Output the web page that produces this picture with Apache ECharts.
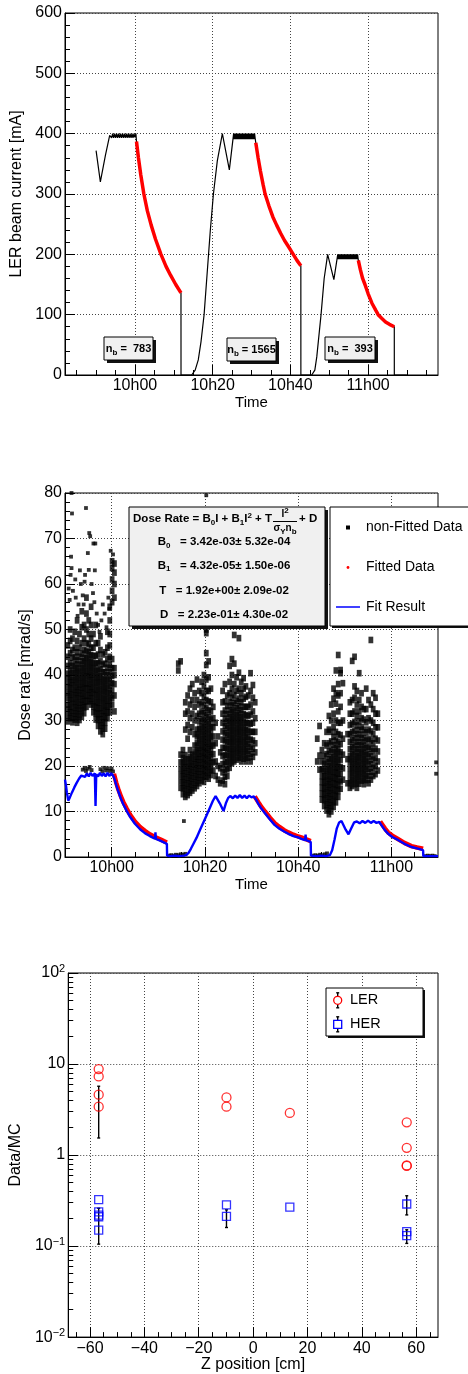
<!DOCTYPE html>
<html><head><meta charset="utf-8">
<script src="https://cdn.jsdelivr.net/npm/echarts@6/dist/echarts.min.js"></script>
<style>html,body{margin:0;padding:0;background:#fff}#c{width:468px;height:1374px}</style>
</head><body><div id="c"></div>
<script>
// ---------- shared tick labels ----------
const timeTickValues = [0, 20, 40, 60];
const timeTickLabels = ['10h00', '10h20', '10h40', '11h00'];
const timeMinorTicks1 = [-15, -10, -5, 5, 10, 15, 25, 30, 35, 45, 50, 55, 65, 70, 75];
const timeMinorTicks2 = [-5, 5, 10, 15, 25, 30, 35, 45, 50, 55, 65];
const zTickValues = [-60, -40, -20, 0, 20, 40, 60];
const zMinorTicks = [-65, -55, -50, -45, -35, -30, -25, -15, -10, -5, 5, 10, 15, 25, 30, 35, 45, 50, 55, 65];

// ---------- panel 1 : LER beam current [mA] vs time (minutes after 10h00) ----------
const beamCurrent = [
  [-10,372],[-8.9,320],[-7.6,364],[-6.5,397],
  [-6.25,400],[-6.0,393],[-5.75,400],[-5.5,393],[-5.25,400],[-5.0,393],[-4.75,400],[-4.5,393],
  [-4.25,400],[-4.0,393],[-3.75,400],[-3.5,393],[-3.25,400],[-3.0,393],[-2.75,400],[-2.5,393],
  [-2.25,400],[-2.0,393],[-1.75,400],[-1.5,393],[-1.25,400],[-1.0,393],[-0.75,400],[-0.5,393],
  [-0.25,400],[0.0,394],[0.25,400],
  [0.4,387],[0.9,360],[1.5,332],[2.3,300],[3.2,272],[4.2,248],[5.3,225],[6.7,200],[8,180],
  [9.2,165],[10.5,150],[11.85,136],[11.86,0],[14.6,0],[15.5,8],[16.3,25],[17,55],[17.8,100],
  [18.6,170],[19.4,240],[20.2,300],[21.2,355],[22.5,400],[24.3,340],[25.4,400],
  [25.55,391],[25.7,400],[25.85,391],[26.0,400],[26.15,391],[26.3,400],[26.45,391],[26.6,400],
  [26.75,391],[26.9,400],[27.05,391],[27.2,400],[27.35,391],[27.5,400],[27.65,391],[27.8,400],
  [27.95,391],[28.1,400],[28.25,391],[28.4,400],[28.55,391],[28.7,400],[28.85,391],[29.0,400],
  [29.15,391],[29.3,400],[29.45,391],[29.6,400],[29.75,391],[29.9,400],[30.05,391],[30.2,400],
  [30.35,391],[30.5,400],[30.65,391],[30.8,400],[30.95,392],
  [31.1,385],[31.7,360],[32.3,338],[33,315],[33.5,300],[34.5,280],[35.5,262],[36.5,248],
  [37.5,235],[38.5,223],[39.5,213],[40.75,200],[41.7,190],[42.7,181],[42.71,0],
  [45.5,0],[46.3,8],[46.8,30],[47.9,100],[48.7,160],[49.6,200],[51.2,158],[52.2,200],
  [52.35,192],[52.5,200],[52.65,192],[52.8,200],[52.95,192],[53.1,200],[53.25,192],[53.4,200],
  [53.55,192],[53.7,200],[53.85,192],[54.0,200],[54.15,192],[54.3,200],[54.45,192],[54.6,200],
  [54.75,192],[54.9,200],[55.05,192],[55.2,200],[55.35,192],[55.5,200],[55.65,192],[55.8,200],
  [55.95,192],[56.1,200],[56.25,192],[56.4,200],[56.55,192],[56.7,200],[56.85,192],[57.0,200],
  [57.15,192],[57.3,200],
  [57.5,190],[58,175],[58.6,160],[59.2,150],[60,135],[61,119],[62,107],[62.6,100],[63.5,94],
  [64.5,88],[65.5,84],[66.75,80],[66.76,0],[70,0]
];
const fittedCurrent1 = [[0.4,387],[0.9,360],[1.5,332],[2.3,300],[3.2,272],[4.2,248],[5.3,225],[6.7,200],[8,180],[9.2,165],[10.5,150],[11.85,136]];
const fittedCurrent2 = [[31.1,385],[31.7,360],[32.3,338],[33,315],[33.5,300],[34.5,280],[35.5,262],[36.5,248],[37.5,235],[38.5,223],[39.5,213],[40.75,200],[41.7,190],[42.7,181]];
const fittedCurrent3 = [[57.5,190],[58,175],[58.6,160],[59.2,150],[60,135],[61,119],[62,107],[62.6,100],[63.5,94],[64.5,88],[65.5,84],[66.75,80]];
const bunchCounts = ['783', '1565', '393'];

// ---------- panel 2 : dose rate [mrad/s] vs time ----------
// columns: [time, [dose values...]]
const nonFittedRun1 = [
  [-9.4,[29.8,31,32.4,33.5,35,36.2,37.6,39,40.3,42,44,46.5]],
  [-8.9,[30.5,31.8,33,34.4,35.7,37,38.3,39.6,41,42.6,44.8,47.5,50]],
  [-8.4,[29.6,30.9,32.2,33.6,34.9,36.3,37.7,39,40.5,42,43.8,45.5,48]],
  [-7.9,[30.2,31.5,32.8,34.1,35.5,36.8,38.2,39.6,41,42.4,44,46,49.5]],
  [-7.4,[29.5,30.8,32.1,33.4,34.8,36.1,37.4,38.8,40.2,41.6,43.2,45,47.5,52]],
  [-6.9,[30.1,31.4,32.7,34,35.4,36.7,38,39.4,40.8,42.3,44,46,49]],
  [-6.4,[30.8,32.1,33.4,34.7,36,37.3,38.7,40.1,41.5,43,44.7,47,50.5,54]],
  [-5.9,[31.6,32.9,34.2,35.5,36.9,38.2,39.6,41,42.4,43.8,45.5,48,51]],
  [-5.4,[33,34.3,35.6,37,38.3,39.7,41,42.4,43.8,45.3,47,50,53.5,57]],
  [-4.9,[34.2,35.5,36.8,38.1,39.5,40.8,42.2,43.6,45,46.8,49,52]],
  [-4.4,[33.5,34.8,36.1,37.4,38.8,40.1,41.5,42.9,44.4,46,48,51,55]],
  [-3.9,[31.8,33.1,34.4,35.8,37.1,38.5,39.9,41.3,42.7,44.2,46,49]],
  [-3.4,[30.2,31.5,32.8,34.1,35.5,36.8,38.2,39.6,41,42.5,44.2,47,51]],
  [-2.9,[28.8,30.1,31.4,32.7,34,35.4,36.8,38.2,39.6,41,42.6,44.5,47]],
  [-2.4,[27.6,28.9,30.2,31.5,32.8,34.2,35.6,37,38.4,39.8,41.3,43,45.5,48.5]],
  [-1.9,[27,28.3,29.6,30.9,32.2,33.6,35,36.4,37.8,39.2,40.7,42.3,44.5]],
  [-1.4,[28.2,29.5,30.8,32.1,33.4,34.8,36.2,37.6,39,40.6,42.5,45]],
  [-0.9,[30.5,31.8,33.1,34.4,35.8,37.2,38.6,40,41.6,43.5,46,49.5]],
  [-0.4,[31.8,33.2,34.6,36,37.5,39,40.6,42.2,44,46.5,49,52,55]],
  [0.1,[33.5,35,36.6,38.2,39.8,41.5,43.5,56,58.5,61,63.5,65]],
  [0.6,[32,35.5,38,40,41.5,57,60,62.5,64.5]]
];
const nonFittedRun2 = [
  [14.3,[41,42.5]],
  [14.8,[15.2,16.6,18,19.4,20.8,22.5,43]],
  [15.3,[13.8,15.1,16.4,17.7,19,20.4,21.8,23.5]],
  [15.8,[13.2,14.5,15.8,17.1,18.4,19.7,21,22.4,28,31.5,34]],
  [16.3,[13.6,14.9,16.2,17.5,18.8,20.1,21.5,26,29,32,35.5]],
  [16.8,[14.1,15.4,16.7,18,19.3,20.6,22,23.5,27.5,30.5,33.5,37]],
  [17.3,[14.6,15.9,17.2,18.5,19.8,21.1,22.5,28.5,31.5,34.5,38]],
  [17.8,[15.1,16.4,17.7,19,20.3,21.6,23,24.5,27,30,33,36]],
  [18.3,[15.6,16.9,18.2,19.5,20.8,22.1,23.5,25,26.5,28,31,34.5,39]],
  [18.8,[16.2,17.5,18.8,20.1,21.4,22.7,24,25.4,26.8,28.2,29.8,31.5,33.5,36.5]],
  [19.3,[16.8,18.1,19.4,20.7,22,23.3,24.6,26,27.4,28.8,30.3,32,34,36,38.5]],
  [19.8,[16.5,17.8,19.1,20.4,21.7,23,24.3,25.7,27.1,28.5,30,31.6,33.3,35.2,37.5,40]],
  [20.3,[17.6,18.9,20.2,21.5,22.8,24.1,25.4,26.8,28.2,29.6,31.1,32.7,34.5,36.5,39,42.2,44.8,49.2,50]],
  [20.8,[17.2,18.5,19.8,21.1,22.4,23.7,25,26.4,27.8,29.2,30.7,32.3,34.2,36.5,39.5,43]],
  [21.3,[18,19.3,20.6,21.9,23.2,24.5,25.9,27.3,28.7,30.2,32,34,37]],
  [21.8,[19,20.8,22.6,24.5,26.5,28.5,30.5,33]],
  [22.3,[17.8,21,25,29.5]],
  [22.8,[17,20,26.5]],
  [23.3,[16.2,19.5,23]],
  [23.8,[16.8,18.6,20.4,22.2,24,25.8,27.6,29.5,31.5,34,36.5]],
  [24.3,[16,17.6,19.2,20.8,22.4,24,25.6,27.2,28.8,30.4,32.2,34.2,38]],
  [24.8,[17.8,19.3,20.8,22.3,23.8,25.3,26.8,28.3,29.8,31.4,33.2,35.5]],
  [25.3,[19.6,21,22.4,23.8,25.2,26.6,28,29.4,30.8,32.3,34,36,38.5,42]],
  [25.8,[20.6,22,23.4,24.8,26.2,27.6,29,30.4,31.8,33.3,35,37,40,43.5]],
  [26.3,[21,22.4,23.8,25.2,26.6,28,29.4,30.8,32.2,33.8,35.6,38,42.5,48.8]],
  [26.8,[21.4,22.8,24.2,25.6,27,28.4,29.8,31.2,32.7,34.3,36.5,39.5]],
  [27.3,[21.8,23.2,24.6,26,27.4,28.8,30.2,31.6,33.1,34.8,37,40.5,48.1]],
  [27.8,[21,22.4,23.8,25.2,26.6,28,29.4,30.8,32.3,34,36,38.5]],
  [28.3,[21.6,23,24.4,25.8,27.2,28.6,30,31.4,33,34.8,37,39.3]],
  [28.8,[21,22.4,23.8,25.2,26.6,28,29.5,31.2,33,35.2,37.5]],
  [29.3,[21.8,23.3,24.8,26.3,27.8,29.4,31,33,35.5]],
  [29.8,[21,22.6,24.2,25.8,27.5,29.3,31.3,33.5,36.5,40.4]],
  [30.3,[22,23.8,25.6,27.5,29.5,32,35,37.8]],
  [30.8,[23,25,27.5,30.5,34]]
];
const nonFittedRun3 = [
  [44.1,[21,26]],
  [44.6,[19.2,22.3,28.8]],
  [45.1,[12.6,13.9,15.2,16.5,17.8,19.3,21,23.5]],
  [45.6,[11.2,12.5,13.8,15.1,16.4,17.7,19,20.5,22.2,25]],
  [46.1,[10.2,11.5,12.8,14.1,15.4,16.7,18,19.4,20.9,22.6,24.5,27.5]],
  [46.6,[9.4,10.7,12,13.3,14.6,15.9,17.2,18.6,20,21.5,23.2,25,28,31]],
  [47.1,[10,11.3,12.6,13.9,15.2,16.5,17.8,19.2,20.6,22,23.6,25.4,27.5,30,33.5]],
  [47.6,[11,12.3,13.6,14.9,16.2,17.5,18.8,20.2,21.6,23,24.6,26.4,28.5,31.5,34.8,37]],
  [48.1,[12,13.3,14.6,15.9,17.2,18.5,19.8,21.2,22.6,24,25.6,27.5,30,33.7,36,41]],
  [48.6,[13.2,14.5,15.8,17.1,18.4,19.7,21,22.4,23.8,25.3,27,29.5,32,35.5,38,44.4]],
  [49.1,[15,16.6,18.2,19.8,21.4,23,24.8,26.8,29.5,33,36,40.4,41.1]],
  [49.6,[17,19.5,22.5,26,30,38.2]],
  [50.6,[16.2,21.5,27]],
  [51.1,[15.2,16.6,18,19.4,20.8,22.2,23.7,25.3,27,29,31.5,34]],
  [51.6,[15.6,17,18.4,19.8,21.2,22.6,24.1,25.7,27.4,29.3,31.5,34.5,43.1]],
  [52.1,[16,17.4,18.8,20.2,21.6,23,24.5,26.1,27.8,29.7,32,35,37.5,44]],
  [52.6,[15.2,16.6,18,19.4,20.8,22.2,23.7,25.3,27,28.9,31,33.5,36.5]],
  [53.1,[16.1,17.5,18.9,20.3,21.7,23.1,24.6,26.2,27.9,29.8,32,34.5,40.4]],
  [53.6,[16.8,18.2,19.6,21,22.4,23.8,25.3,26.9,28.6,30.5,33,36]],
  [54.1,[16,17.4,18.8,20.2,21.6,23,24.5,26.1,28,30.2,32.5]],
  [54.6,[16.9,18.3,19.7,21.1,22.5,24,25.6,27.4,29.6,32.5,37]],
  [55.1,[16.2,17.8,19.4,21,22.6,24.2,26,28,30.5,34.5]],
  [55.6,[17,18.7,20.4,22.1,23.8,25.6,27.6,30,33.5,47.7]],
  [56.1,[17.8,19.6,21.4,23.2,25,27,29.5,32.5,36]],
  [56.6,[18.2,20,21.8,23.8,26,28.5,31.5,35]],
  [57.1,[19,21,23.2,25.6,28.5,31.5]]
];
const nonFittedSparse = [
  [-8.6,80],[-8.5,75.5],[-8.7,66],[-8.6,63.5],[-8.8,62],[-8.3,58.5],[-9.0,56.5],[-7.7,57],[-7.1,55.5],
  [-7.3,53],[-6.6,60],[-6.2,57.5],[-6.0,55.5],[-5.5,76.7],[-4.8,71.2],[-4.6,70.5],[-3.9,68.9],[-3.5,68.9],
  [-5.1,66.8],[-4.9,63.1],[-5.7,62],[-3.6,63],[-4.3,60],[-4.0,58],[-3.7,56],[-3.2,53.5],[-2.9,51],
  [-2.6,49.5],[-2.2,52],[-1.9,55.5],[-1.5,53.5],[-1.1,50.5],[-0.7,57],[-0.5,54.5],[-0.2,67.3],[0.3,66.5],
  [-5.8,60.5],[-6.8,63],[-7.8,61],[-9.2,59],
  [-6.2,19.2],[-5.8,19.6],[-5.5,18.9],[-5.1,19.4],[-4.7,19.8],[-4.3,19.1],[-2.4,19.3],[-2.0,18.8],
  [-1.6,19.6],[-1.2,19.0],[-0.8,19.5],[-0.4,18.9],[0.0,19.4],[0.3,18.8],
  [20.3,79.5],[15.5,7.9],
  [12.3,0.3],[12.8,0.4],[13.3,0.3],[13.8,0.5],[14.3,0.4],[14.8,0.6],[15.3,0.5],[15.8,0.7],
  [43.2,0.3],[43.7,0.4],[44.2,0.3],[44.7,0.5],[45.2,0.4],[45.7,0.6],[46.2,0.8],
  [67.3,0.2],[67.8,0.3],[68.3,0.2],[68.8,0.3],[69.3,0.2],[69.6,20.8],[69.6,18.3]
];
const fittedDose1 = [[0.5,18.3],[1.0,16.3],[1.4,15.0],[2.0,13.3],[2.5,12.1],[3.2,10.7],[3.9,9.4],[5.0,7.8],[6.1,6.6],[7.2,5.7],[8.2,5.0],[9.3,4.4],[10.4,3.9],[11.2,3.5],[11.85,3.2]];
const fittedDose2 = [[30.7,13.3],[31.0,12.9],[31.5,12.0],[32.0,11.2],[32.9,10.0],[34.0,8.6],[35.0,7.4],[36.0,6.6],[37.0,5.9],[37.9,5.4],[39.0,4.9],[40.0,4.5],[40.7,4.3],[41.5,4.0],[42.7,3.5]];
const fittedDose3 = [[57.6,7.8],[58.0,7.2],[58.6,6.3],[59.3,5.4],[60.2,4.7],[61.5,3.9],[62.8,3.1],[64.3,2.4],[65.5,2.1],[66.8,1.8]];
const fitResult = [
  [-10,17.0],[-9.8,15.8],[-9.6,14.2],[-9.3,12.4],[-9.0,13.0],[-8.5,14.2],[-8.0,15.3],[-7.5,16.3],[-7.0,17.2],
  [-6.5,17.9],[-6.1,18.3],[-5.7,17.6],[-5.3,18.4],[-4.9,17.7],[-4.5,18.5],[-4.1,17.8],[-3.6,18.4],[-3.45,11.2],
  [-3.3,18.2],[-2.9,17.7],[-2.5,18.5],[-2.1,17.8],[-1.7,18.4],[-1.3,17.7],[-0.9,18.5],[-0.5,17.8],[-0.1,18.4],[0.3,17.9],
  [0.6,17.2],[1.0,15.8],[1.4,14.5],[2.0,12.8],[2.5,11.6],[3.2,10.2],[3.9,8.9],[5.0,7.3],[6.1,6.1],[7.2,5.2],
  [8.2,4.6],[9.3,4.0],[9.4,5.4],[9.5,4.0],[10.4,3.6],[11.2,3.2],[11.85,2.9],
  [11.9,0.3],[12.5,0.2],[13.5,0.3],[14.5,0.2],[15.5,0.3],[16.0,0.4],[16.5,0.9],[17.0,1.8],[17.5,2.8],[18.2,4.2],
  [18.9,5.8],[19.6,7.4],[20.3,9.0],[21.1,10.9],[21.7,12.3],[22.3,13.4],[23.2,11.8],[24.0,10.1],[24.5,11.8],
  [25.0,13.0],[25.5,13.4],[26.0,12.9],[26.5,13.5],[27.0,13.0],[27.5,13.6],[28.0,13.0],[28.5,13.5],[29.0,12.9],
  [29.5,13.5],[30.0,13.1],[30.5,13.3],
  [31.0,12.6],[31.5,11.6],[32.0,10.8],[32.9,9.6],[34.0,8.2],[35.0,7.0],[36.0,6.2],[37.0,5.6],[37.9,5.1],
  [39.0,4.6],[40.0,4.3],[40.7,4.0],[41.5,3.7],[41.6,4.9],[41.7,3.7],[42.7,3.3],
  [42.75,0.3],[44,0.2],[45,0.3],[46,0.2],[46.8,0.4],[47.3,1.5],[47.8,3.8],[48.3,6.3],[48.8,7.6],[49.3,7.9],
  [50.2,6.0],[50.8,5.0],[51.4,6.3],[52.0,7.6],[52.6,7.8],[53.2,7.4],[53.8,7.9],[54.4,7.5],[55.0,8.0],[55.6,7.5],
  [56.2,7.9],[56.8,7.5],[57.4,7.7],
  [58.0,6.8],[58.6,5.9],[59.3,5.1],[60.2,4.4],[61.5,3.7],[62.8,2.9],[64.3,2.2],[65.5,1.9],[66.8,1.5],
  [66.85,0.2],[68,0.2],[70,0.2]
];
const statNames = ['B0', 'B1', 'T', 'D'];
const statValues = ['3.42e-03', '4.32e-05', '1.92e+00', '2.23e-01'];
const statErrors = ['5.32e-04', '1.50e-06', '2.09e-02', '4.30e-02'];

// ---------- panel 3 : Data/MC vs Z position [cm] ----------
const lerPoints = [[-56.8,8.8],[-56.8,7.3],[-56.8,4.6],[-56.8,3.4],[-9.8,4.3],[-9.8,3.4],[13.5,2.9],[56.5,2.29],[56.5,1.2],[56.5,0.77],[56.5,0.76]];
const herPoints = [[-56.8,0.323],[-56.8,0.238],[-56.8,0.219],[-56.8,0.21],[-56.8,0.15],[-9.8,0.284],[-9.8,0.212],[13.5,0.268],[56.5,0.29],[56.5,0.144],[56.5,0.13]];
const lerErrors = [[-56.8,1.54,5.7]];
const herErrors = [[-56.8,0.105,0.26],[-9.8,0.16,0.25],[56.5,0.22,0.357],[56.5,0.107,0.151]];

// ---------- build ----------
function flattenColumns(cols) {
  const out = [];
  cols.forEach(c => c[1].forEach(v => out.push([c[0], v])));
  return out;
}
const denseDose = flattenColumns(nonFittedRun1).concat(flattenColumns(nonFittedRun2), flattenColumns(nonFittedRun3));

const FONT = '"Liberation Sans", Arial, Helvetica, sans-serif';
const dotted = { type: [1, 2], color: '#444', width: 1 };
const black = { color: '#000', width: 1 };
const logMinor = [];
for (let n = -2; n < 2; n++) for (let k = 2; k <= 9; k++) logMinor.push(Math.log10(k) + n);

function timeMain(grid, min, max) {
  return {
    gridIndex: grid, type: 'value', min: min, max: max, position: 'bottom',
    axisLine: { show: true, onZero: false, lineStyle: black },
    axisTick: { show: true, inside: true, length: 10, customValues: timeTickValues, lineStyle: black },
    axisLabel: { customValues: timeTickValues, margin: 3, fontSize: 16, color: '#000', fontFamily: FONT,
      formatter: v => timeTickLabels[timeTickValues.indexOf(Math.round(v))] || '' },
    splitLine: { show: true, lineStyle: dotted },
    name: 'Time', nameLocation: 'middle', nameGap: 19,
    nameTextStyle: { fontSize: 15, color: '#000', fontFamily: FONT }
  };
}
function minorAxis(grid, min, max, ticks, pos) {
  return {
    gridIndex: grid, type: 'value', min: min, max: max, position: pos,
    axisLine: { show: false, onZero: false }, axisLabel: { show: false }, splitLine: { show: false },
    axisTick: { show: true, inside: true, length: 5, customValues: ticks, lineStyle: black }
  };
}
function valueY(grid, min, max, interval, name, gap) {
  return {
    gridIndex: grid, type: 'value', min: min, max: max, interval: interval, position: 'left',
    axisLine: { show: true, onZero: false, lineStyle: black },
    axisTick: { show: true, inside: true, length: 10, lineStyle: black },
    minorTick: { show: true, splitNumber: 5, length: 5, lineStyle: black },
    axisLabel: { margin: 3, fontSize: 16, color: '#000', fontFamily: FONT },
    splitLine: { show: true, lineStyle: dotted },
    name: name, nameLocation: 'middle', nameGap: gap,
    nameTextStyle: { fontSize: 16, color: '#000', fontFamily: FONT }
  };
}

const lineS = (data, color, width, xi, yi, name) => ({
  type: 'line', name: name, data: data, xAxisIndex: xi, yAxisIndex: yi, showSymbol: false,
  symbol: 'none', lineStyle: { color: color, width: width }, itemStyle: { color: color }, z: 3
});

function errRender(params, api) {
  const x = api.value(0);
  const lo = api.coord([x, api.value(1)]);
  const hi = api.coord([x, api.value(2)]);
  const st = { stroke: '#000', lineWidth: 1.4 };
  return { type: 'group', children: [
    { type: 'line', shape: { x1: lo[0], y1: lo[1], x2: hi[0], y2: hi[1] }, style: st },
    { type: 'line', shape: { x1: lo[0] - 1.5, y1: lo[1], x2: lo[0] + 1.5, y2: lo[1] }, style: st },
    { type: 'line', shape: { x1: hi[0] - 1.5, y1: hi[1], x2: hi[0] + 1.5, y2: hi[1] }, style: st }
  ] };
}

// ---------- graphic (boxes, legends) ----------
const G = [];
function box(x, y, w, h, fill, sh) {
  G.push({ type: 'rect', shape: { x: x + sh, y: y + sh, width: w, height: h }, style: { fill: '#111' }, z: 100, silent: true });
  G.push({ type: 'rect', shape: { x: x, y: y, width: w, height: h }, style: { fill: fill, stroke: '#000', lineWidth: 1 }, z: 101, silent: true });
}
const subRich = {
  sb: { fontSize: 8, fontWeight: 'bold', fontFamily: FONT, fill: '#000', padding: [7, 0, 0, 0] },
  sp: { fontSize: 8, fontWeight: 'bold', fontFamily: FONT, fill: '#000', padding: [0, 0, 6, 0] }
};
function txt(x, y, text, opts) {
  G.push(Object.assign({ type: 'text', x: x, y: y, z: 102, silent: true,
    style: Object.assign({ text: text, fontSize: 11.5, fontWeight: 'bold', fontFamily: FONT, fill: '#000',
      align: 'center', verticalAlign: 'middle', rich: subRich }, opts || {}) }));
}
// n_b boxes (panel 1)
const nbBoxes = [[104, 337, 49, 23], [227, 338, 49, 23], [325, 337, 50, 23]];
nbBoxes.forEach((b, i) => {
  box(b[0], b[1], b[2], b[3], '#f0f0f0', 3);
  const pad = bunchCounts[i].length < 4 ? '  ' : ' ';
  txt(b[0] + b[2] / 2, b[1] + b[3] / 2 + 0.5, 'n{sb|b} =' + pad + bunchCounts[i], { fontSize: 11 });
});
// stats box (panel 2)
box(129, 507, 196, 119, '#f0f0f0', 3);
txt(272, 519, 'Dose Rate = B{sb|0}I + B{sb|1}I{sp|2} + T', { align: 'right' });
txt(285, 514, 'I{sp|2}', { fontSize: 10 });
G.push({ type: 'line', shape: { x1: 273, y1: 521.5, x2: 297, y2: 521.5 }, style: { stroke: '#000', lineWidth: 1 }, z: 102, silent: true });
txt(285, 528, 'σ{sb|Y}n{sb|b}', { fontSize: 10 });
txt(299, 519, '+ D', { align: 'left' });
const statY = [542, 565.5, 590.5, 615];
statNames.forEach((n, i) => {
  const nm = n.length === 2 ? n[0] + '{sb|' + n[1] + '}' : n;
  txt(224, statY[i], nm + '   = ' + statValues[i] + '± ' + statErrors[i]);
});
// legend (panel 2)
box(330, 507, 145, 119, '#ffffff', 2);
G.push({ type: 'rect', shape: { x: 346, y: 525.5, width: 4, height: 4 }, style: { fill: '#000' }, z: 102, silent: true });
G.push({ type: 'circle', shape: { cx: 348, cy: 567.5, r: 1.4 }, style: { fill: '#ff0000' }, z: 102, silent: true });
G.push({ type: 'line', shape: { x1: 336, y1: 607, x2: 360, y2: 607 }, style: { stroke: '#0000ff', lineWidth: 1.5 }, z: 102, silent: true });
const leg2 = [['non-Fitted Data', 527.5], ['Fitted Data', 567.5], ['Fit Result', 607]];
leg2.forEach(l => txt(366, l[1], l[0], { fontSize: 14, fontWeight: 'normal', align: 'left' }));
// legend (panel 3)
box(326, 988, 97, 48, '#ffffff', 2);
[[1000.3, 'LER'], [1024.3, 'HER']].forEach((e, i) => {
  G.push({ type: 'line', shape: { x1: 337.7, y1: e[0] - 7.5, x2: 337.7, y2: e[0] + 7.5 }, style: { stroke: '#000', lineWidth: 1.4 }, z: 102, silent: true });
  G.push({ type: 'line', shape: { x1: 336.2, y1: e[0] - 7.5, x2: 339.2, y2: e[0] - 7.5 }, style: { stroke: '#000', lineWidth: 1.4 }, z: 102, silent: true });
  G.push({ type: 'line', shape: { x1: 336.2, y1: e[0] + 7.5, x2: 339.2, y2: e[0] + 7.5 }, style: { stroke: '#000', lineWidth: 1.4 }, z: 102, silent: true });
  if (i === 0) G.push({ type: 'circle', shape: { cx: 337.7, cy: e[0], r: 4 }, style: { fill: '#fff', stroke: '#ff0000', lineWidth: 1.3 }, z: 103, silent: true });
  else G.push({ type: 'rect', shape: { x: 333.7, y: e[0] - 4, width: 8, height: 8 }, style: { fill: '#fff', stroke: '#0000ff', lineWidth: 1.3 }, z: 103, silent: true });
  txt(350, e[0], e[1], { fontSize: 14.5, fontWeight: 'normal', align: 'left' });
});

const option = {
  animation: false,
  backgroundColor: '#fff',
  textStyle: { fontFamily: FONT },
  grid: [
    { left: 65, top: 13, width: 373, height: 362, show: true, borderColor: '#000', borderWidth: 1, backgroundColor: 'transparent' },
    { left: 65, top: 493, width: 373, height: 364, show: true, borderColor: '#000', borderWidth: 1, backgroundColor: 'transparent' },
    { left: 65, top: 973, width: 373, height: 365, show: true, borderColor: '#000', borderWidth: 1, backgroundColor: 'transparent' }
  ],
  xAxis: [
    timeMain(0, -18, 78),
    minorAxis(0, -18, 78, timeMinorTicks1, 'bottom'),
    timeMain(1, -10, 70),
    minorAxis(1, -10, 70, timeMinorTicks2, 'bottom'),
    {
      gridIndex: 2, type: 'value', min: -68, max: 68, position: 'bottom',
      axisLine: { show: true, onZero: false, lineStyle: black },
      axisTick: { show: true, inside: true, length: 10, customValues: zTickValues, lineStyle: black },
      axisLabel: { customValues: zTickValues, margin: 3, fontSize: 16, color: '#000', fontFamily: FONT,
        formatter: v => (v < 0 ? '\u2212' + (-v) : '' + v) },
      splitLine: { show: true, lineStyle: dotted },
      name: 'Z position [cm]', nameLocation: 'middle', nameGap: 18,
      nameTextStyle: { fontSize: 16, color: '#000', fontFamily: FONT }
    },
    minorAxis(2, -68, 68, zMinorTicks, 'bottom')
  ],
  yAxis: [
    valueY(0, 0, 600, 100, 'LER beam current [mA]', 34),
    valueY(1, 0, 80, 10, 'Dose rate [mrad/s]', 27),
    {
      gridIndex: 2, type: 'log', logBase: 10, min: 0.01, max: 100, position: 'left',
      axisLine: { show: true, onZero: false, lineStyle: black },
      axisTick: { show: true, inside: true, length: 10, lineStyle: black },
      axisLabel: { margin: 3, color: '#000', fontFamily: FONT,
        formatter: v => {
          const n = Math.round(Math.log10(v));
          if (n === 0) return '{b|1}';
          if (n === 1) return '{b|10}';
          return '{b|10}{s|' + (n < 0 ? '\u2212' + (-n) : n) + '}';
        },
        rich: { b: { fontSize: 16, color: '#000', fontFamily: FONT }, s: { fontSize: 11, color: '#000', fontFamily: FONT, padding: [0, 0, 9, 0] } } },
      splitLine: { show: true, lineStyle: dotted },
      name: 'Data/MC', nameLocation: 'middle', nameGap: 36,
      nameTextStyle: { fontSize: 16, color: '#000', fontFamily: FONT }
    },
    minorAxis(2, -2, 2, logMinor, 'left')
  ],
  series: [
    lineS(beamCurrent, '#000', 1.2, 0, 0, 'LER beam current'),
    lineS(fittedCurrent1, '#ff0000', 3.5, 0, 0, 'Fitted current'),
    lineS(fittedCurrent2, '#ff0000', 3.5, 0, 0, 'Fitted current'),
    lineS(fittedCurrent3, '#ff0000', 3.5, 0, 0, 'Fitted current'),
    { type: 'scatter', name: 'non-Fitted Data', data: denseDose, xAxisIndex: 2, yAxisIndex: 1,
      symbol: 'rect', symbolSize: [4.8, 6.6], itemStyle: { color: '#000' }, z: 2 },
    { type: 'scatter', name: 'non-Fitted Data', data: nonFittedSparse, xAxisIndex: 2, yAxisIndex: 1,
      symbol: 'rect', symbolSize: 3.8, itemStyle: { color: '#000' }, z: 2 },
    lineS(fittedDose1, '#ff0000', 4.5, 2, 1, 'Fitted Data'),
    lineS(fittedDose2, '#ff0000', 4.5, 2, 1, 'Fitted Data'),
    lineS(fittedDose3, '#ff0000', 4.5, 2, 1, 'Fitted Data'),
    Object.assign(lineS(fitResult, '#0000ff', 2.4, 2, 1, 'Fit Result'), { z: 4 }),
    { type: 'custom', name: 'LER err', data: lerErrors, xAxisIndex: 4, yAxisIndex: 2, renderItem: errRender, encode: { x: 0, y: [1, 2] }, z: 2 },
    { type: 'custom', name: 'HER err', data: herErrors, xAxisIndex: 4, yAxisIndex: 2, renderItem: errRender, encode: { x: 0, y: [1, 2] }, z: 2 },
    { type: 'scatter', name: 'LER', data: lerPoints, xAxisIndex: 4, yAxisIndex: 2, symbol: 'circle', symbolSize: 9,
      itemStyle: { color: 'rgba(255,255,255,0)', borderColor: '#ff0000', borderWidth: 1.3 }, z: 3 },
    { type: 'scatter', name: 'HER', data: herPoints, xAxisIndex: 4, yAxisIndex: 2, symbol: 'rect', symbolSize: 8,
      itemStyle: { color: 'rgba(255,255,255,0)', borderColor: '#0000ff', borderWidth: 1.3 }, z: 3 }
  ],
  graphic: { elements: G }
};
const chart = echarts.init(document.getElementById('c'), null, { renderer: 'canvas' });
chart.setOption(option);
</script></body></html>
